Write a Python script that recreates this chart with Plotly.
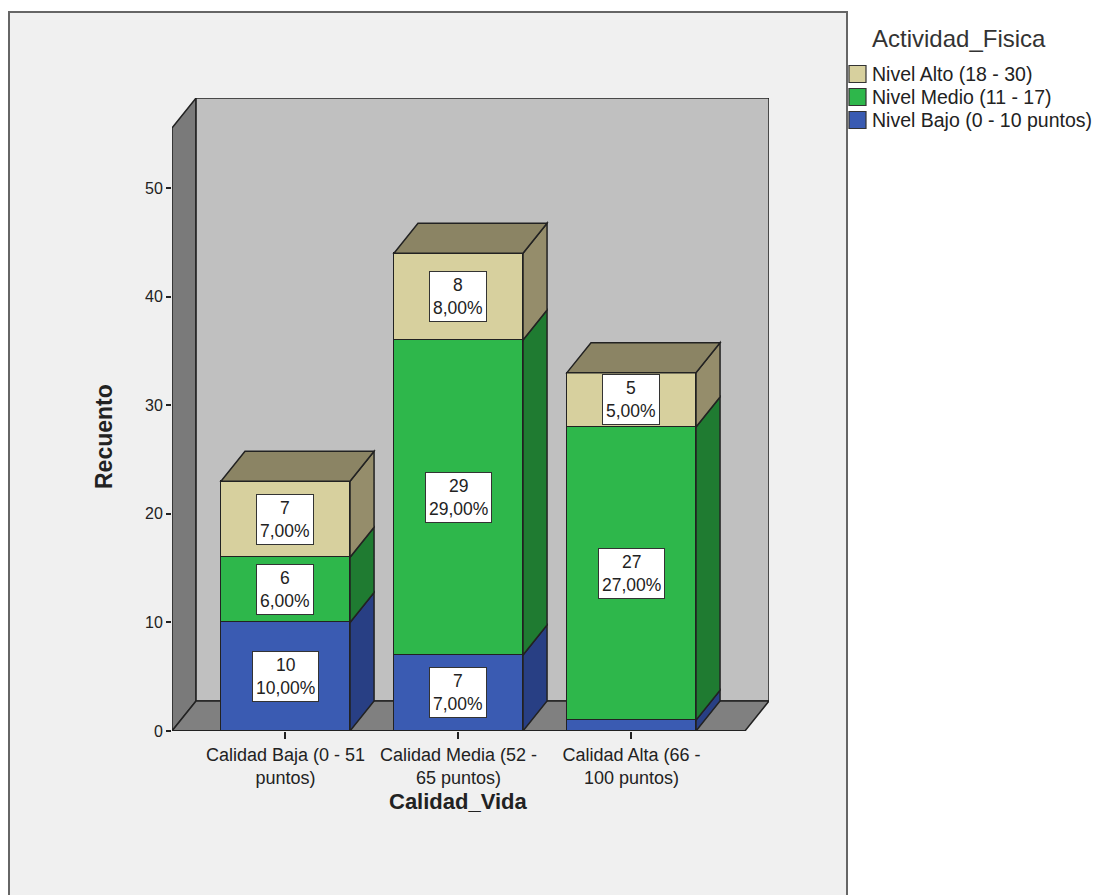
import plotly.graph_objects as go

# ---------------- data ----------------
categories = ["Calidad Baja (0 - 51<br>puntos)",
              "Calidad Media (52 -<br>65 puntos)",
              "Calidad Alta (66 -<br>100 puntos)"]
series_names = ["Nivel Bajo (0 - 10 puntos)", "Nivel Medio (11 - 17)", "Nivel Alto (18 - 30)"]
nivel_bajo = [10, 7, 1]
nivel_medio = [6, 29, 27]
nivel_alto = [7, 8, 5]
y_ticks = [0, 10, 20, 30, 40, 50]
total_n = 100
legend_title = "Actividad_Fisica"
x_title = "Calidad_Vida"
y_title = "Recuento"

series_values = [nivel_bajo, nivel_medio, nivel_alto]

# ---------------- style ----------------
front_colors = ["#3A5BB2", "#2EB74B", "#D7D09E"]
side_colors = ["#283F84", "#1F7B31", "#958D6B"]
top_color = "#8B8464"
edge = "#222222"
TXT = "#222222"
BAR_W = 0.746
DX = 0.139     # depth offset in x-axis units
DY = 2.76      # depth offset in y-axis units
X0, X1 = -0.656, 2.656
YTOP = 58.29
FONT = "Liberation Sans, Arial, sans-serif"

# plot area in pixels (for placing paper-referenced decorations)
PL, PR, PT, PB = 172, 769, 98, 731
def px(x):
    return (x - PL) / (PR - PL)
def py(y):
    return (PB - y) / (PB - PT)

fig = go.Figure()
xs = list(range(len(categories)))

for name, vals, col in zip(series_names, series_values, front_colors):
    fig.add_trace(go.Bar(
        x=xs, y=vals, name=name, width=BAR_W, showlegend=False,
        marker=dict(color=col, line=dict(color=edge, width=1.5)),
        hoverinfo="name+y",
    ))

shapes = []
# frame of the chart area
shapes.append(dict(type="rect", xref="paper", yref="paper",
                   x0=px(9), x1=px(847), y0=py(960), y1=py(12),
                   fillcolor="#F0F0F0", line=dict(color="#666666", width=2),
                   layer="below"))

def path(pts):
    return "M " + " L ".join(f"{x},{y}" for x, y in pts) + " Z"

# left wall
shapes.append(dict(type="path", xref="x", yref="y", layer="below",
                   path=path([(X0, 0), (X0, YTOP - DY), (X0 + DX, YTOP), (X0 + DX, DY)]),
                   fillcolor="#7A7A7A", line=dict(color=edge, width=1.5)))
# back wall
shapes.append(dict(type="path", xref="x", yref="y", layer="below",
                   path=path([(X0 + DX, DY), (X0 + DX, YTOP), (X1 + DX, YTOP), (X1 + DX, DY)]),
                   fillcolor="#C0C0C0", line=dict(color=edge, width=1.5)))
# floor
shapes.append(dict(type="path", xref="x", yref="y", layer="below",
                   path=path([(X0, 0), (X1, 0), (X1 + DX, DY), (X0 + DX, DY)]),
                   fillcolor="#808080", line=dict(color=edge, width=1.5)))

# bar side and top faces + value labels
annotations = []
for i, xc in enumerate(xs):
    xl = xc - BAR_W / 2
    xr = xc + BAR_W / 2
    base = 0
    for s, vals in enumerate(series_values):
        v = vals[i]
        y0, y1 = base, base + v
        shapes.append(dict(type="path", xref="x", yref="y", layer="above",
                           path=path([(xr, y0), (xr + DX, y0 + DY), (xr + DX, y1 + DY), (xr, y1)]),
                           fillcolor=side_colors[s], line=dict(color=edge, width=1.5)))
        if v >= 3:
            pct = f"{v / total_n * 100:.2f}".replace(".", ",") + "%"
            annotations.append(dict(x=xc, y=(y0 + y1) / 2, xref="x", yref="y",
                                    xanchor="center", yanchor="middle",
                                    text=f"{v}<br>{pct}", showarrow=False,
                                    font=dict(family=FONT, size=17.5, color=TXT),
                                    bgcolor="white", bordercolor="#333333",
                                    borderwidth=1, borderpad=3))
        base = y1
    shapes.append(dict(type="path", xref="x", yref="y", layer="above",
                       path=path([(xl, base), (xr, base), (xr + DX, base + DY), (xl + DX, base + DY)]),
                       fillcolor=top_color, line=dict(color=edge, width=1.5)))

# front floor edge
shapes.append(dict(type="line", xref="x", yref="y", layer="above",
                   x0=X0, x1=X1, y0=0, y1=0, line=dict(color=edge, width=2)))

# axis titles
annotations.append(dict(text=f"<b>{x_title}</b>", xref="x", yref="paper",
                        x=1.0, y=py(801), xanchor="center", yanchor="middle",
                        showarrow=False, font=dict(family=FONT, size=22, color=TXT)))
annotations.append(dict(text=f"<b>{y_title}</b>", xref="paper", yref="paper",
                        x=px(104), y=py(437), xanchor="center", yanchor="middle",
                        showarrow=False, textangle=-90,
                        font=dict(family=FONT, size=23, color=TXT)))

# legend (drawn to match the reference's compact spacing)
annotations.append(dict(text=legend_title, xref="paper", yref="paper",
                        x=px(959), y=py(39), xanchor="center", yanchor="middle",
                        showarrow=False, font=dict(family=FONT, size=24, color="#333333")))
row_y = [120, 97, 74]   # Bajo, Medio, Alto
for name, col, ry in zip(series_names, front_colors, row_y):
    shapes.append(dict(type="rect", xref="paper", yref="paper",
                       x0=px(849), x1=px(866), y0=py(ry + 8.5), y1=py(ry - 8.5),
                       fillcolor=col, line=dict(color="#333333", width=1.2)))
    annotations.append(dict(text=name, xref="paper", yref="paper",
                            x=px(870), y=py(ry), xanchor="left", yanchor="middle",
                            showarrow=False, font=dict(family=FONT, size=19.5, color=TXT)))

fig.update_layout(
    width=1098, height=895,
    margin=dict(l=PL, r=1098 - PR, t=PT, b=895 - PB),
    paper_bgcolor="white", plot_bgcolor="rgba(0,0,0,0)",
    barmode="stack", bargap=0,
    font=dict(family=FONT, color=TXT),
    shapes=shapes, annotations=annotations,
    showlegend=False,
    xaxis=dict(range=[X0, X1 + DX], tickvals=xs, ticktext=categories,
               ticks="outside", ticklen=7, tickcolor=edge, tickwidth=1.5,
               showgrid=False, zeroline=False, showline=False,
               tickfont=dict(family=FONT, size=18, color=TXT)),
    yaxis=dict(range=[0, YTOP], tickvals=y_ticks,
               ticks="outside", ticklen=5, tickcolor=edge, tickwidth=1.5,
               showgrid=False, zeroline=False, showline=False,
               tickfont=dict(family=FONT, size=16, color=TXT)),
)

fig.write_html("out.html")
